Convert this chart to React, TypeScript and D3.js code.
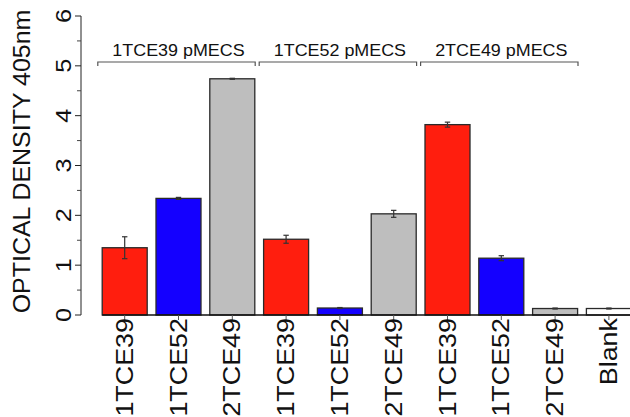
import React from "react";
import * as d3 from "d3";

// samples along the x axis
const labels = ["1TCE39", "1TCE52", "2TCE49", "1TCE39", "1TCE52", "2TCE49", "1TCE39", "1TCE52", "2TCE49", "Blank"];
const values = [1.35, 2.34, 4.74, 1.52, 0.14, 2.03, 3.82, 1.14, 0.13, 0.13];
const errors = [0.22, 0.02, 0.01, 0.08, 0.01, 0.07, 0.05, 0.05, 0.01, 0.01];
const groups = ["1TCE39 pMECS", "1TCE52 pMECS", "2TCE49 pMECS"];
const yTicks = [0, 1, 2, 3, 4, 5, 6];
const yMinorTicks = [0.5, 1.5, 2.5, 3.5, 4.5, 5.5];

const colorOf: Record<string, string> = {
  "1TCE39": "#ff1e0e",
  "1TCE52": "#1400ff",
  "2TCE49": "#bebebe",
  Blank: "#ffffff",
};

const font = "'Liberation Sans', Arial, Helvetica, sans-serif";

const App = () => {
  const width = 630;
  const height = 417;
  const step = 53.8;
  const x0 = 97.8;
  const pad = 8.8 / step;

  const x = d3
    .scaleBand<number>()
    .domain(d3.range(labels.length))
    .range([x0, x0 + step * labels.length])
    .paddingInner(pad)
    .paddingOuter(pad / 2);

  const y = d3.scaleLinear().domain([0, 6]).range([315, 16]);

  const axisX = 81;
  const cx = (i: number) => (x(i) as number) + x.bandwidth() / 2;

  return (
    <svg width={width} height={height} style={{ position: "absolute", left: 0, top: 0 }} fontFamily={font}>
      {/* y axis */}
      <line x1={axisX} x2={axisX} y1={y(6)} y2={y(0)} stroke="#222" strokeWidth={1} />
      {yTicks.map((t) => (
        <g key={"t" + t}>
          <line x1={axisX - 6} x2={axisX} y1={y(t)} y2={y(t)} stroke="#222" />
          <text
            transform={`translate(${axisX - 10},${y(t)}) rotate(-90) scale(1.15,1)`}
            textAnchor="middle"
            fontSize={22}
            fill="#111"
          >
            {t}
          </text>
        </g>
      ))}
      {yMinorTicks.map((t) => (
        <line key={"m" + t} x1={axisX - 4} x2={axisX} y1={y(t)} y2={y(t)} stroke="#444" />
      ))}
      <text
        transform={`translate(30,161.5) rotate(-90) scale(1.04,1)`}
        textAnchor="middle"
        fontSize={24}
        fill="#111"
      >
        OPTICAL DENSITY 405nm
      </text>

      {/* bars */}
      {values.map((v, i) => (
        <rect
          key={"b" + i}
          x={x(i)}
          y={y(v)}
          width={x.bandwidth()}
          height={y(0) - y(v)}
          fill={colorOf[labels[i]]}
          stroke="#2a2a2a"
          strokeWidth={1.3}
        />
      ))}

      {/* error bars */}
      {values.map((v, i) => {
        const c = cx(i);
        const lo = y(v - errors[i]);
        const hi = y(v + errors[i]);
        return (
          <g key={"e" + i} stroke="#333" strokeWidth={1.2}>
            <line x1={c} x2={c} y1={lo} y2={hi} />
            <line x1={c - 2.7} x2={c + 2.7} y1={lo} y2={lo} />
            <line x1={c - 2.7} x2={c + 2.7} y1={hi} y2={hi} />
          </g>
        );
      })}

      {/* x axis */}
      <line x1={x(0)} x2={width} y1={y(0)} y2={y(0)} stroke="#111" strokeWidth={1.3} />
      {labels.map((l, i) => (
        <g key={"x" + i}>
          <line x1={cx(i)} x2={cx(i)} y1={y(0)} y2={y(0) + 5} stroke="#555" />
          <text
            transform={`translate(${cx(i) + 8},${y(0) + 3}) rotate(-90) scale(1.12,1)`}
            textAnchor="end"
            fontSize={24}
            fill="#111"
          >
            {l}
          </text>
        </g>
      ))}

      {/* group brackets */}
      {groups.map((g, k) => {
        const left = x0 + k * 3 * step;
        const right = x0 + (k + 1) * 3 * step - 4;
        return (
          <g key={"g" + k}>
            <path
              d={`M${left},66V62H${right}V66`}
              fill="none"
              stroke="#555"
              strokeWidth={1.2}
            />
            <text
              transform={`translate(${cx(k * 3 + 1)},56) scale(1.12,1)`}
              textAnchor="middle"
              fontSize={16}
              fill="#111"
            >
              {g}
            </text>
          </g>
        );
      })}
    </svg>
  );
};

export default App;
